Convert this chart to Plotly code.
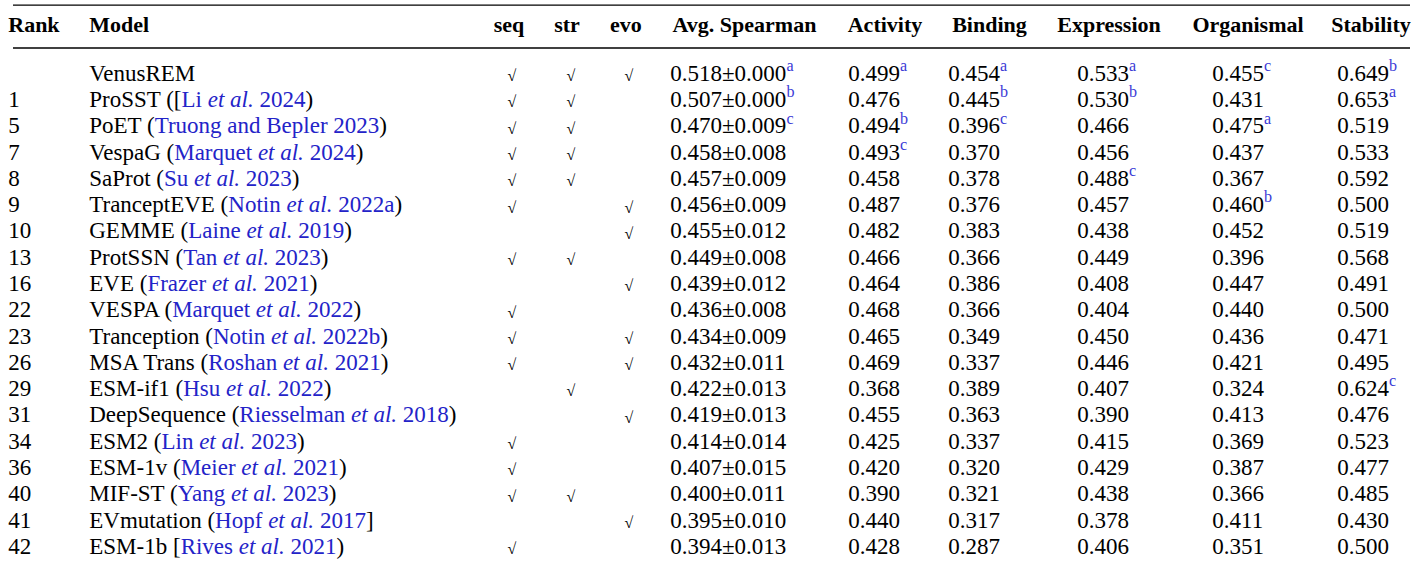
import plotly.graph_objects as go

# ---- table data ----
ranks = ["", "1", "5", "7", "8", "9", "10", "13", "16", "22", "23", "26", "29", "31", "34", "36", "40", "41", "42"]
models = ["VenusREM", "ProSST", "PoET", "VespaG", "SaProt", "TranceptEVE", "GEMME", "ProtSSN", "EVE",
          "VESPA", "Tranception", "MSA Trans", "ESM-if1", "DeepSequence", "ESM2", "ESM-1v", "MIF-ST",
          "EVmutation", "ESM-1b"]
# (open bracket, author part, year part, close bracket)
citations = [None,
             ("([", "Li", "2024", ")"),
             ("(", "Truong and Bepler", "2023", ")"),
             ("(", "Marquet", "2024", ")"),
             ("(", "Su", "2023", ")"),
             ("(", "Notin", "2022a", ")"),
             ("(", "Laine", "2019", ")"),
             ("(", "Tan", "2023", ")"),
             ("(", "Frazer", "2021", ")"),
             ("(", "Marquet", "2022", ")"),
             ("(", "Notin", "2022b", ")"),
             ("(", "Roshan", "2021", ")"),
             ("(", "Hsu", "2022", ")"),
             ("(", "Riesselman", "2018", ")"),
             ("(", "Lin", "2023", ")"),
             ("(", "Meier", "2021", ")"),
             ("(", "Yang", "2023", ")"),
             ("(", "Hopf", "2017", "]"),
             ("[", "Rives", "2021", ")")]
uses_seq = [1, 1, 1, 1, 1, 1, 0, 1, 0, 1, 1, 1, 0, 0, 1, 1, 1, 0, 1]
uses_str = [1, 1, 1, 1, 1, 0, 0, 1, 0, 0, 0, 0, 1, 0, 0, 0, 1, 0, 0]
uses_evo = [1, 0, 0, 0, 0, 1, 1, 0, 1, 0, 1, 1, 0, 1, 0, 0, 0, 1, 0]

avg_spearman = [0.518, 0.507, 0.470, 0.458, 0.457, 0.456, 0.455, 0.449, 0.439, 0.436, 0.434, 0.432,
                0.422, 0.419, 0.414, 0.407, 0.400, 0.395, 0.394]
avg_std = [0.000, 0.000, 0.009, 0.008, 0.009, 0.009, 0.012, 0.008, 0.012, 0.008, 0.009, 0.011,
           0.013, 0.013, 0.014, 0.015, 0.011, 0.010, 0.013]
activity = [0.499, 0.476, 0.494, 0.493, 0.458, 0.487, 0.482, 0.466, 0.464, 0.468, 0.465, 0.469,
            0.368, 0.455, 0.425, 0.420, 0.390, 0.440, 0.428]
binding = [0.454, 0.445, 0.396, 0.370, 0.378, 0.376, 0.383, 0.366, 0.386, 0.366, 0.349, 0.337,
           0.389, 0.363, 0.337, 0.320, 0.321, 0.317, 0.287]
expression = [0.533, 0.530, 0.466, 0.456, 0.488, 0.457, 0.438, 0.449, 0.408, 0.404, 0.450, 0.446,
              0.407, 0.390, 0.415, 0.429, 0.438, 0.378, 0.406]
organismal = [0.455, 0.431, 0.475, 0.437, 0.367, 0.460, 0.452, 0.396, 0.447, 0.440, 0.436, 0.421,
              0.324, 0.413, 0.369, 0.387, 0.366, 0.411, 0.351]
stability = [0.649, 0.653, 0.519, 0.533, 0.592, 0.500, 0.519, 0.568, 0.491, 0.500, 0.471, 0.495,
             0.624, 0.476, 0.523, 0.477, 0.485, 0.430, 0.500]

# top-3 marks: {row index: letter}
marks_avg = {0: "a", 1: "b", 2: "c"}
marks_activity = {0: "a", 2: "b", 3: "c"}
marks_binding = {0: "a", 1: "b", 2: "c"}
marks_expression = {0: "a", 1: "b", 4: "c"}
marks_organismal = {2: "a", 5: "b", 0: "c"}
marks_stability = {1: "a", 0: "b", 12: "c"}

headers = ["Rank", "Model", "seq", "str", "evo", "Avg. Spearman", "Activity", "Binding",
           "Expression", "Organismal", "Stability"]

# ---- styling ----
FONT = "Liberation Serif"
FS = 23
HFS = 22
BLUE = "#2323c8"
SUPBLUE = "#3a3ad6"
W, H = 1415, 565
GAP = 4.75  # plotly's horizontal gap for side text positions

n = len(models)
rows = list(range(n))
header_y = -1.83
rule_top, rule_mid = -2.66, -1.03


def sup(letter):
    if not letter:
        return ""
    return "<sup><span style='color:%s'>%s</span></sup>" % (SUPBLUE, letter)


def model_label(name, cite):
    if cite is None:
        return name
    ob, author, year, cb = cite
    if author == "Truong and Bepler":
        ref = "%s %s" % (author, year)
    else:
        ref = "%s <i>et al.</i> %s" % (author, year)
    return "%s %s<span style='color:%s'>%s</span>%s" % (name, ob, BLUE, ref, cb)


fig = go.Figure()


def add_text(xpos, ys, texts, pos="middle right", size=FS, bold=False):
    if pos == "middle right":
        xpos = xpos - GAP
    fig.add_trace(go.Scatter(
        x=[xpos] * len(ys), y=ys, text=texts, mode="text", textposition=pos,
        textfont=dict(family=FONT, size=size, color="black",
                      weight="bold" if bold else "normal"),
        hoverinfo="skip", showlegend=False, cliponaxis=False))


# body columns
add_text(13, rows, ranks)
add_text(94, rows, [model_label(m, c) for m, c in zip(models, citations)])

for xc, flags in [(512, uses_seq), (571, uses_str), (629, uses_evo)]:
    ys = [i + 0.08 for i, f in enumerate(flags) if f]
    add_text(xc, ys, ["√"] * len(ys), pos="middle center", size=16)

add_text(675, rows, ["%.3f±%.3f%s" % (v, s, sup(marks_avg.get(i)))
                     for i, (v, s) in enumerate(zip(avg_spearman, avg_std))])
for xl, vals, marks in [(853, activity, marks_activity), (953, binding, marks_binding),
                        (1082, expression, marks_expression), (1217, organismal, marks_organismal),
                        (1342, stability, marks_stability)]:
    add_text(xl, rows, ["%.3f%s" % (v, sup(marks.get(i))) for i, v in enumerate(vals)])

# header row
add_text(13, [header_y], ["<b>Rank</b>"], size=HFS, bold=True)
add_text(94, [header_y], ["<b>Model</b>"], size=HFS, bold=True)
for xc, h in zip([509, 567, 626, 744.5, 885, 989.5, 1109, 1248, 1371], headers[2:]):
    add_text(xc, [header_y], ["<b>%s</b>" % h], pos="middle center", size=HFS, bold=True)

for yr in (rule_top, rule_mid):
    fig.add_shape(type="line", xref="x", yref="y", x0=13, x1=1410, y0=yr, y1=yr,
                  line=dict(color="black", width=1.4))

px_per_row = 26.28
y_top = -75 / px_per_row
y_bot = (H - 75) / px_per_row

fig.update_layout(
    width=W, height=H,
    margin=dict(l=0, r=0, t=0, b=0),
    paper_bgcolor="white", plot_bgcolor="white",
    xaxis=dict(range=[0, W], visible=False, fixedrange=True),
    yaxis=dict(range=[y_bot, y_top], visible=False, fixedrange=True),
)

# drop the browser's default page margin so the figure sits at the window corner
fig.write_html("out.html", config={"displayModeBar": False},
               post_script="document.body.style.margin='0px';document.body.style.overflow='hidden';")
